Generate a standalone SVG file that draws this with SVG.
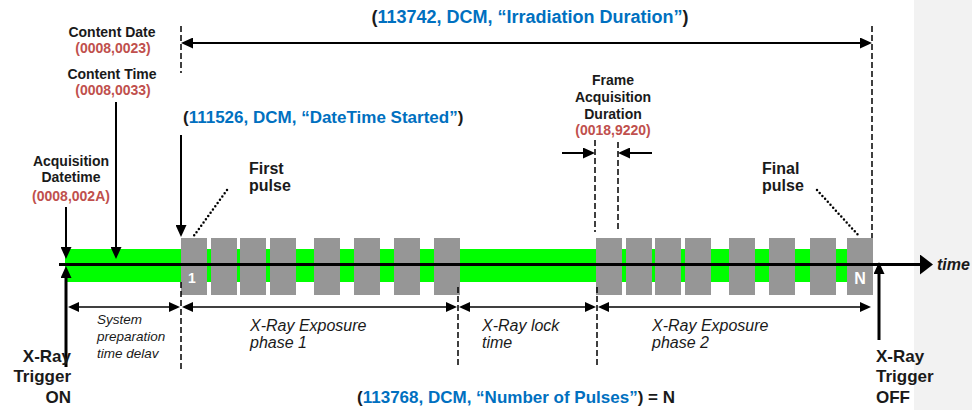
<svg xmlns="http://www.w3.org/2000/svg" width="972" height="410" viewBox="0 0 972 410">
<style>
text{font-family:"Liberation Sans",Arial,sans-serif;}
.b{font-weight:bold;}
.lab{font-size:14px;font-weight:bold;fill:#1a1a1a;}
.red{font-size:14px;font-weight:bold;fill:#c0504d;}
.blue{fill:#0070c0;}
.ref{font-size:17px;font-weight:bold;fill:#1a1a1a;}
.it{font-style:italic;fill:#1a1a1a;}
.big{font-size:17px;font-weight:bold;fill:#1a1a1a;}
.dash{stroke:#000;stroke-width:1.5;stroke-dasharray:6 3;fill:none;}
.dot{stroke:#000;stroke-width:2.5;stroke-dasharray:0 4;stroke-linecap:round;fill:none;}
.arr{stroke:#000;stroke-width:2;fill:none;}
.dim{stroke:#000;stroke-width:1.5;fill:none;}
.pulse{fill:#969696;}
</style>
<defs>
<marker id="ah" markerUnits="userSpaceOnUse" markerWidth="12" markerHeight="11" refX="6" refY="5.5" orient="auto-start-reverse"><path d="M0,0 L12,5.5 L0,11 z" fill="#000"/></marker>
<marker id="ahs" markerUnits="userSpaceOnUse" markerWidth="11" markerHeight="10" refX="6" refY="5" orient="auto-start-reverse"><path d="M0,0 L11,5 L0,10 z" fill="#000"/></marker>
<marker id="aht" markerUnits="userSpaceOnUse" markerWidth="13" markerHeight="20" refX="4" refY="10" orient="auto"><path d="M0,0 L13,10 L0,20 z" fill="#000"/></marker>
<clipPath id="clipSys"><rect x="0" y="300" width="200" height="58"/></clipPath>
</defs>

<rect x="914" y="0" width="58" height="410" fill="#f2f2f2"/>

<!-- timeline -->
<g id="timeline">
<rect x="65" y="249" width="795" height="33" fill="#00ff00"/>
<rect class="pulse" x="181" y="238" width="26" height="57"/>
<rect class="pulse" x="211" y="238" width="26" height="57"/>
<rect class="pulse" x="240" y="238" width="26" height="57"/>
<rect class="pulse" x="270" y="238" width="26" height="57"/>
<rect class="pulse" x="314" y="238" width="26" height="57"/>
<rect class="pulse" x="354" y="238" width="26" height="57"/>
<rect class="pulse" x="394" y="238" width="26" height="57"/>
<rect class="pulse" x="434" y="238" width="26" height="57"/>
<rect class="pulse" x="596" y="238" width="26" height="57"/>
<rect class="pulse" x="626" y="238" width="26" height="57"/>
<rect class="pulse" x="655" y="238" width="26" height="57"/>
<rect class="pulse" x="685" y="238" width="26" height="57"/>
<rect class="pulse" x="729" y="238" width="26" height="57"/>
<rect class="pulse" x="769" y="238" width="26" height="57"/>
<rect class="pulse" x="810" y="238" width="26" height="57"/>
<rect class="pulse" x="847" y="238" width="26" height="57"/>
<text x="192" y="283" text-anchor="middle" class="b" font-size="14" fill="#fff">1</text>
<text x="860" y="284" text-anchor="middle" class="b" font-size="16" fill="#fff">N</text>
<line x1="59" y1="264.5" x2="924" y2="264.5" stroke="#000" stroke-width="3" marker-end="url(#aht)"/>
<text x="937" y="270" class="b" font-style="italic" font-size="16" fill="#1a1a1a">time</text>
</g>

<!-- connectors -->
<g id="connectors">
<line class="arr" x1="187" y1="43" x2="866" y2="43" marker-start="url(#ah)" marker-end="url(#ah)"/>
<line class="dash" x1="181" y1="26" x2="181" y2="73"/>
<line class="dash" x1="872" y1="26" x2="872" y2="238"/>
<line class="arr" x1="116" y1="102" x2="116" y2="253" marker-end="url(#ah)"/>
<line class="arr" x1="66" y1="207" x2="66" y2="253" marker-end="url(#ah)"/>
<line class="arr" x1="181" y1="135" x2="181" y2="231" marker-end="url(#ah)"/>
<line class="dot" x1="227" y1="190" x2="193" y2="237"/>
<line class="dot" x1="817" y1="190" x2="859" y2="236"/>
<line class="dash" x1="595" y1="140" x2="595" y2="232"/>
<line class="dash" x1="618" y1="142" x2="618" y2="232"/>
<line class="arr" x1="562" y1="153" x2="589" y2="153" marker-end="url(#ah)"/>
<line class="arr" x1="652" y1="153" x2="624" y2="153" marker-end="url(#ah)"/>
<line class="dash" x1="181" y1="282" x2="181" y2="370"/>
<line class="dash" x1="458" y1="287" x2="458" y2="367"/>
<line class="dash" x1="597" y1="287" x2="597" y2="365"/>
<line class="dim" x1="73" y1="307" x2="175" y2="307" marker-start="url(#ahs)" marker-end="url(#ahs)"/>
<line class="dim" x1="187" y1="307" x2="452" y2="307" marker-start="url(#ahs)" marker-end="url(#ahs)"/>
<line class="dim" x1="464" y1="307" x2="591" y2="307" marker-start="url(#ahs)" marker-end="url(#ahs)"/>
<line class="dim" x1="603" y1="307" x2="866" y2="307" marker-start="url(#ahs)" marker-end="url(#ahs)"/>
<line x1="66" y1="367" x2="66" y2="272" stroke="#000" stroke-width="3" marker-end="url(#ah)"/>
<line x1="879" y1="340" x2="879" y2="268" stroke="#000" stroke-width="3" marker-end="url(#ah)"/>
</g>

<g id="irradiation-duration">
<text x="530" y="23" text-anchor="middle" font-size="18" class="b" fill="#1a1a1a">(<tspan class="blue">113742, DCM, “Irradiation Duration”</tspan>)</text>
</g>

<g id="content-date">
<text x="112" y="37" text-anchor="middle" class="lab">Content Date</text>
<text x="113" y="53" text-anchor="middle" class="red">(0008,0023)</text>
</g>

<g id="content-time">
<text x="112" y="79" text-anchor="middle" class="lab">Content Time</text>
<text x="113" y="95" text-anchor="middle" class="red">(0008,0033)</text>
</g>

<g id="acquisition-datetime">
<text x="71" y="166" text-anchor="middle" class="lab">Acquisition</text>
<text x="71" y="182" text-anchor="middle" class="lab">Datetime</text>
<text x="71" y="201" text-anchor="middle" class="red">(0008,002A)</text>
</g>

<g id="datetime-started">
<text x="183" y="123" class="ref">(<tspan class="blue">111526, DCM, “DateTime Started”</tspan>)</text>
</g>

<g id="first-pulse">
<text x="249" y="174" class="b" font-size="16" fill="#1a1a1a">First</text>
<text x="249" y="191" class="b" font-size="16" fill="#1a1a1a">pulse</text>
</g>

<g id="final-pulse">
<text x="762" y="174" class="b" font-size="16" fill="#1a1a1a">Final</text>
<text x="762" y="191" class="b" font-size="16" fill="#1a1a1a">pulse</text>
</g>

<g id="frame-acquisition-duration">
<text x="613" y="85" text-anchor="middle" class="lab">Frame</text>
<text x="613" y="102" text-anchor="middle" class="lab">Acquisition</text>
<text x="613" y="119" text-anchor="middle" class="lab">Duration</text>
<text x="613" y="135" text-anchor="middle" class="red">(0018,9220)</text>
</g>

<g id="system-preparation">
<g clip-path="url(#clipSys)">
<text x="97" y="324" class="it" font-size="13.5">System</text>
<text x="97" y="341" class="it" font-size="13.5">preparation</text>
<text x="97" y="358" class="it" font-size="13.5">time delay</text>
</g>
</g>

<g id="exposure-phase-1">
<text x="250" y="331" class="it" font-size="16">X-Ray Exposure</text>
<text x="250" y="348" class="it" font-size="16">phase 1</text>
</g>

<g id="lock-time">
<text x="482" y="331" class="it" font-size="16">X-Ray lock</text>
<text x="482" y="348" class="it" font-size="16">time</text>
</g>

<g id="exposure-phase-2">
<text x="652" y="331" class="it" font-size="16">X-Ray Exposure</text>
<text x="652" y="348" class="it" font-size="16">phase 2</text>
</g>

<g id="trigger-on">
<text x="71" y="362" text-anchor="end" class="big">X-Ray</text>
<text x="71" y="382" text-anchor="end" class="big">Trigger</text>
<text x="71" y="403" text-anchor="end" class="big">ON</text>
</g>

<g id="trigger-off">
<text x="876" y="362" class="big">X-Ray</text>
<text x="876" y="382" class="big">Trigger</text>
<text x="876" y="403" class="big">OFF</text>
</g>

<g id="number-of-pulses">
<text x="516" y="403" text-anchor="middle" class="ref">(<tspan class="blue">113768, DCM, “Number of Pulses”</tspan>) = N</text>
</g>
</svg>
